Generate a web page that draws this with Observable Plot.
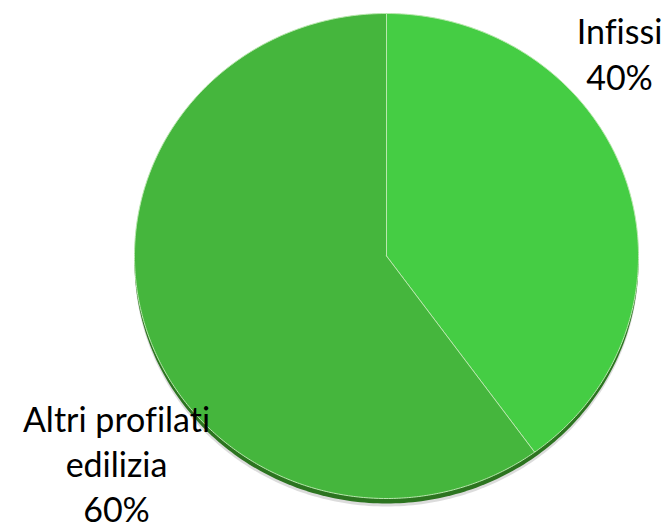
<!DOCTYPE html>
<html><head><meta charset="utf-8">
<script src="https://cdn.jsdelivr.net/npm/d3@7"></script>
<script src="https://cdn.jsdelivr.net/npm/@observablehq/plot@0.6"></script>
<style>body{margin:0;background:#fff}</style>
</head><body><div id="chart"></div>
<script>
const categories = ["Infissi", "Altri profilati\nedilizia"];
const values = [40, 60];
const colors = ["#45cd44", "#45b63d"];

const arcs = d3.pie().sort(null)(values);
const pts = [];
arcs.forEach((a, i) => {
  const key = categories[i];
  pts.push({key, x: 0, y: 0});
  const n = Math.max(2, Math.ceil((a.endAngle - a.startAngle) / 0.01));
  for (let k = 0; k <= n; k++) {
    const t = a.startAngle + (a.endAngle - a.startAngle) * k / n;
    pts.push({key, x: Math.sin(t), y: Math.cos(t)});
  }
  pts.push({key, x: 0, y: 0});
});
const ring = d3.range(0, 361, 1).map(d => ({x: Math.sin(d * Math.PI / 180), y: Math.cos(d * Math.PI / 180)}));
const labels = categories.map((c, i) => `${c}\n${values[i]}%`);

const chart = Plot.plot({
  width: 668, height: 532,
  margin: 0,
  style: {fontVariantLigatures: "none", background: "#fff"},
  x: {domain: [-1, 1], range: [134, 638], axis: null},
  y: {domain: [-1, 1], range: [498, 13], axis: null},
  color: {domain: categories, range: colors},
  marks: [
    Plot.line(ring, {x: "x", y: "y", fill: "#9a9a9a", fillOpacity: 0.35, stroke: "none", dy: 8}),
    Plot.line(ring, {x: "x", y: "y", fill: "#2c7420", stroke: "none", dy: 5}),
    Plot.line(pts, {x: "x", y: "y", z: "key", fill: "key", stroke: "#b9e8ae", strokeWidth: 1}),
    Plot.text([labels[0]], {frameAnchor: "top-left", dx: 619, dy: 10, textAnchor: "middle", lineAnchor: "top", fontSize: 34, lineHeight: 1.37, fill: "#000", fontFamily: "Lato"}),
    Plot.text([labels[1]], {frameAnchor: "top-left", dx: 116, dy: 400, textAnchor: "middle", lineAnchor: "top", fontSize: 34, lineHeight: 1.32, fill: "#000", fontFamily: "Lato"})
  ]
});
document.getElementById("chart").appendChild(chart);
</script></body></html>
